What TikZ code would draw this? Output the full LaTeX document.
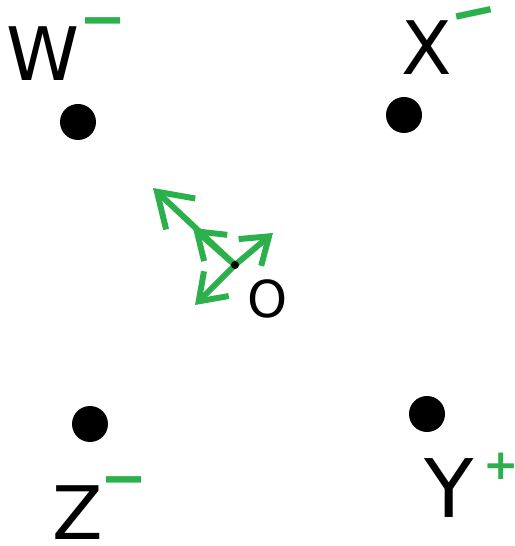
\documentclass[tikz,border=0pt]{standalone}
\usepackage{fontspec}
\setmainfont{DejaVu Sans}
\usetikzlibrary{arrows.meta,backgrounds}
\definecolor{signgreen}{RGB}{44,176,75}

\begin{document}
\begin{tikzpicture}[x=0.02cm, y=-0.02cm,
    charge/.style={circle, fill=black, inner sep=0pt, minimum size=0.72cm},
    letter/.style={inner sep=0pt, font=\fontsize{42}{42}\selectfont},
    minus/.style={inner sep=0pt, text=signgreen, font=\fontsize{32}{32}\selectfont\bfseries},
    plus/.style={inner sep=0pt, text=signgreen, font=\fontsize{24}{24}\selectfont\bfseries},
    force/.style={signgreen, line width=3.4pt, line cap=round, line join=round,
        -{Straight Barb[length=5mm, width=7mm]}}]
    \useasboundingbox (0,0) rectangle (514,546);

    % Charge W (top left)
    \node[charge] (W) at (78,122) {};
    \node[letter] (Wl) at (43,54) {W};
    \node[minus] (Ws) at (103,28) {−};

    % Charge X (top right)
    \node[charge] (X) at (404,115) {};
    \node[letter] (Xl) at (427,48) {X};
    \node[minus, rotate=12] (Xs) at (475,20) {−};

    % Charge Z (bottom left)
    \node[charge] (Z) at (90,424) {};
    \node[letter] (Zl) at (78,513) {Z};
    \node[minus] (Zs) at (124,487) {−};

    % Charge Y (bottom right)
    \node[charge] (Y) at (427,414) {};
    \node[letter, font=\fontsize{46}{46}\selectfont] (Yl) at (449,488) {Y};
    \node[plus] (Ys) at (501,466) {+};

    % Point O and the forces on it
    \node[circle, fill=black, inner sep=0pt, minimum size=0.16cm] (O) at (235,265) {};
    \node[letter, font=\fontsize{29}{29}\selectfont] (Ol) at (268,299) {O};
    \coordinate (fW) at (193,228);
    \coordinate (fY) at (153,188);
    \coordinate (fX) at (273,233);
    \coordinate (fZ) at (195,305);
    \begin{scope}[on background layer]
        \draw[force, -{Straight Barb[length=6.5mm, width=8.5mm]}] (O.center) -- (fY);
        \draw[force] (O.center) -- (fW);
        \draw[force] (O.center) -- (fX);
        \draw[force] (O.center) -- (fZ);
    \end{scope}
\end{tikzpicture}
\end{document}
